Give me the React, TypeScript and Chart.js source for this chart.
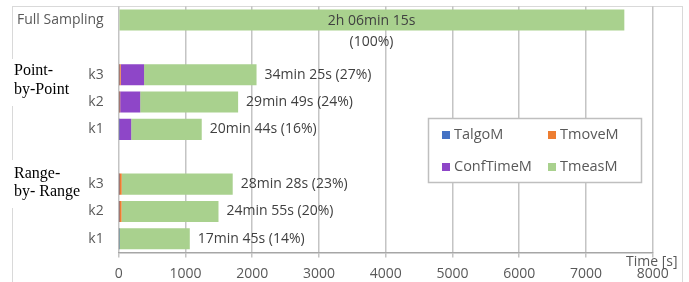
import React, { useEffect, useRef } from 'react';
import { Chart, registerables } from 'chart.js';

Chart.register(...registerables);

// ---- data ----
const categories = ['Full Sampling', '', 'k3', 'k2', 'k1', '', 'k3', 'k2', 'k1'];
const seriesNames = ['TalgoM', 'TmoveM', 'ConfTimeM', 'TmeasM'];
const talgoM = [0, null, 5, 4, 2, null, 3, 3, 2];
const tmoveM = [0, null, 25, 18, 5, null, 42, 40, 5];
const confTimeM = [0, null, 350, 300, 180, null, 0, 0, 0];
const tmeasM = [7575, null, 1685, 1467, 1057, null, 1663, 1452, 1058];
const totalLabels = [
  ['2h 06min 15s', '(100%)'],
  [],
  ['34min 25s (27%)'],
  ['29min 49s (24%)'],
  ['20min 44s (16%)'],
  [],
  ['28min 28s (23%)'],
  ['24min 55s (20%)'],
  ['17min 45s (14%)'],
];
const groupLabels = [
  ['Point-', 'by-Point'],
  ['Range-', 'by- Range'],
];
const xTickValues = [0, 1000, 2000, 3000, 4000, 5000, 6000, 7000, 8000];
const axisTitle = 'Time [s]';

// ---- styling ----
const W = 689;
const H = 282;
const PLOT_LEFT = 118.7;
const PLOT_RIGHT = 652.7;
const PLOT_TOP = 6.3;
const PLOT_BOTTOM = 252.5;
const SANS = '"Open Sans", "Noto Sans", sans-serif';
const SERIF = '"Liberation Serif", "DejaVu Serif", serif';
const colors = ['#4472C4', '#ED7D31', '#8E46C8', '#A9D18E'];

const decorPlugin = {
  id: 'decor',
  beforeDraw(chart: any) {
    const ctx = chart.ctx;
    ctx.save();
    ctx.fillStyle = '#ffffff';
    ctx.fillRect(0, 0, W, H);
    ctx.strokeStyle = '#D9D9D9';
    ctx.lineWidth = 1;
    ctx.strokeRect(12.5, 6.5, 670, 300);
    ctx.restore();
  },
  afterDatasetsDraw(chart: any) {
    const ctx = chart.ctx;
    const meta = chart.getDatasetMeta(chart.data.datasets.length - 1);
    const xScale = chart.scales.x;
    ctx.save();
    ctx.fillStyle = '#404040';
    ctx.font = `14px ${SANS}`;
    ctx.textBaseline = 'middle';
    totalLabels.forEach((lines, i) => {
      if (!lines.length) return;
      const el = meta.data[i];
      if (!el) return;
      if (lines.length > 1) {
        const cx = (xScale.getPixelForValue(0) + el.x) / 2;
        ctx.textAlign = 'center';
        lines.forEach((t, k) => ctx.fillText(t, cx, el.y + 1 + k * 21.5));
      } else {
        ctx.textAlign = 'left';
        ctx.fillText(lines[0], el.x + 8, el.y);
      }
    });
    ctx.restore();
  },
  afterDraw(chart: any) {
    const ctx = chart.ctx;
    ctx.save();
    // legend
    ctx.fillStyle = '#ffffff';
    ctx.fillRect(428, 118, 214, 65);
    ctx.strokeStyle = '#BFBFBF';
    ctx.lineWidth = 1.5;
    ctx.strokeRect(428.5, 118.5, 213, 64);
    const pos = [
      [442, 135],
      [548, 135],
      [442, 167],
      [548, 167],
    ];
    ctx.font = `14.5px ${SANS}`;
    ctx.textBaseline = 'middle';
    ctx.textAlign = 'left';
    seriesNames.forEach((n, i) => {
      const [x, y] = pos[i];
      ctx.fillStyle = colors[i];
      ctx.fillRect(x, y - 4, 8, 8);
      ctx.fillStyle = '#595959';
      ctx.fillText(n, x + 12, y);
    });
    // axis title
    ctx.font = `14px ${SANS}`;
    ctx.fillStyle = '#595959';
    ctx.textAlign = 'left';
    ctx.fillText(axisTitle, 626, 262);
    // group labels
    ctx.fillStyle = '#ffffff';
    ctx.fillRect(10, 59, 68, 47);
    ctx.fillRect(10, 160, 76, 48);
    ctx.fillStyle = '#000000';
    ctx.font = `16px ${SERIF}`;
    ctx.textBaseline = 'alphabetic';
    ctx.fillText(groupLabels[0][0], 14, 75);
    ctx.fillText(groupLabels[0][1], 14, 94);
    ctx.fillText(groupLabels[1][0], 14, 178);
    ctx.fillText(groupLabels[1][1], 14, 196);
    ctx.restore();
  },
};

export default function App() {
  const ref = useRef<HTMLCanvasElement>(null);
  useEffect(() => {
    document.body.style.margin = '0';
    const datasets = [talgoM, tmoveM, confTimeM, tmeasM].map((d, i) => ({
      label: seriesNames[i],
      data: d,
      backgroundColor: colors[i],
      borderWidth: 0,
      barPercentage: 0.77,
      categoryPercentage: 1,
    }));
    const chart = new Chart(ref.current!, {
      type: 'bar',
      data: { labels: categories.map((c, i) => `${i}`), datasets },
      options: {
        indexAxis: 'y',
        animation: false,
        responsive: false,
        devicePixelRatio: 1,
        layout: { padding: { left: 0, right: W - PLOT_RIGHT, top: PLOT_TOP, bottom: 0 } },
        plugins: { legend: { display: false }, tooltip: { enabled: false } },
        scales: {
          x: {
            stacked: true,
            min: 0,
            max: 8000,
            afterBuildTicks: (s: any) => {
              s.ticks = xTickValues.map((v) => ({ value: v }));
            },
            afterFit: (s: any) => {
              s.height = H - PLOT_BOTTOM;
              s.paddingLeft = 0;
              s.paddingRight = 0;
            },
            grid: { color: '#C4C4C4', lineWidth: 1.5, tickLength: 5 },
            border: { color: '#A6A6A6', width: 1.5 },
            ticks: {
              color: '#595959',
              font: { family: SANS, size: 14 },
              padding: 8,
              maxRotation: 0,
              callback: (v: any) => String(v),
            },
          },
          y: {
            stacked: true,
            afterFit: (s: any) => {
              s.width = PLOT_LEFT;
              s.paddingTop = 0;
              s.paddingBottom = 0;
            },
            grid: { display: false, drawTicks: false },
            border: { display: false },
            ticks: {
              color: '#595959',
              font: { family: SANS, size: 14 },
              padding: 15,
              autoSkip: false,
              callback: (_v: any, i: number) => categories[i],
            },
          },
        },
      },
      plugins: [decorPlugin],
    });
    return () => chart.destroy();
  }, []);
  return (
    <div style={{ width: W, height: H }}>
      <canvas ref={ref} width={W} height={H} style={{ display: 'block' }} />
    </div>
  );
}
